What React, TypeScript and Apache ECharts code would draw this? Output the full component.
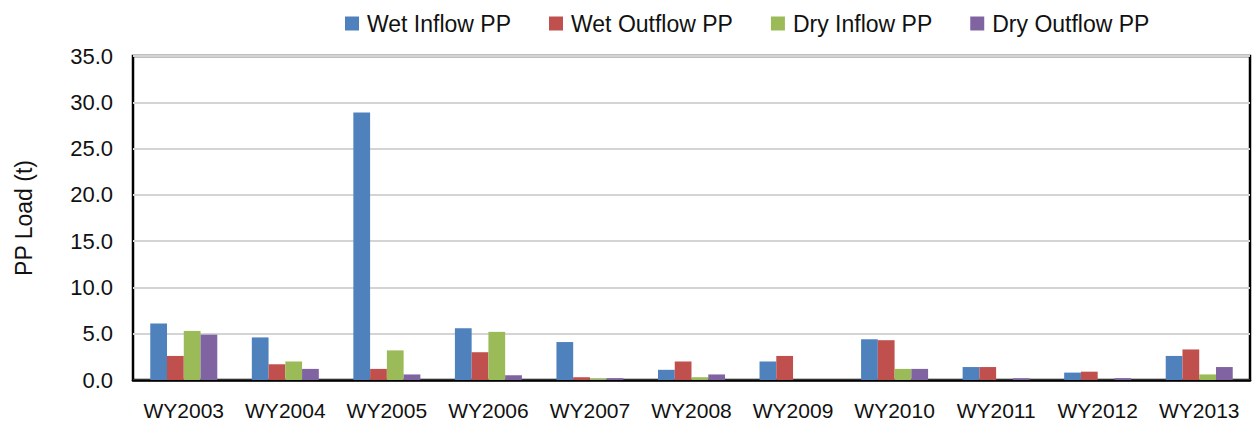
import React, { useEffect, useRef } from "react";
import * as echarts from "echarts";

const categories = ["WY2003", "WY2004", "WY2005", "WY2006", "WY2007", "WY2008", "WY2009", "WY2010", "WY2011", "WY2012", "WY2013"];
const wetInflow = [6.1, 4.6, 28.9, 5.6, 4.1, 1.1, 2.0, 4.4, 1.4, 0.8, 2.6];
const wetOutflow = [2.6, 1.7, 1.2, 3.0, 0.3, 2.0, 2.6, 4.3, 1.4, 0.9, 3.3];
const dryInflow = [5.3, 2.0, 3.2, 5.2, 0.15, 0.3, 0, 1.2, 0, 0, 0.6];
const dryOutflow = [4.9, 1.2, 0.6, 0.5, 0.2, 0.6, 0, 1.2, 0.2, 0.2, 1.4];

const FONT = "Liberation Sans";
const TXT = "#111";

export default function App() {
  const ref = useRef<HTMLDivElement>(null);
  useEffect(() => {
    document.body.style.margin = "0";
    const chart = echarts.init(ref.current!, null, { renderer: "svg" });
    const mk = (name: string, data: number[], color: string) => ({
      name,
      type: "bar",
      data,
      barGap: "0%",
      barCategoryGap: "34%",
      itemStyle: { color },
    });
    chart.setOption({
      animation: false,
      backgroundColor: "#fff",
      textStyle: { fontFamily: FONT },
      legend: {
        left: 340,
        top: 7,
        itemWidth: 14,
        itemHeight: 14,
        itemGap: 38,
        icon: "rect",
        textStyle: { fontSize: 23, color: TXT, fontFamily: FONT, padding: [0, 0, 0, 3] },
        data: ["Wet Inflow PP", "Wet Outflow PP", "Dry Inflow PP", "Dry Outflow PP"],
      },
      grid: {
        left: 133,
        right: 4,
        top: 56,
        bottom: 47,
        show: true,
        borderColor: "#000",
        borderWidth: 2.5,
      },
      xAxis: {
        type: "category",
        data: categories,
        axisTick: { show: false },
        axisLine: { lineStyle: { color: "#000", width: 2.5 } },
        axisLabel: { fontSize: 21, color: TXT, margin: 20, fontFamily: FONT, interval: 0 },
      },
      yAxis: {
        type: "value",
        min: 0,
        max: 35,
        interval: 5,
        name: "PP Load (t)",
        nameLocation: "middle",
        nameGap: 98,
        nameTextStyle: { fontSize: 23, color: TXT, fontFamily: FONT },
        axisLine: { show: false },
        axisTick: { show: false },
        splitLine: { lineStyle: { color: "#d4d4d4", width: 2 } },
        axisLabel: {
          fontSize: 22,
          color: TXT,
          margin: 20,
          fontFamily: FONT,
          formatter: (v: number) => v.toFixed(1),
        },
      },
      series: [
        mk("Wet Inflow PP", wetInflow, "#4F81BD"),
        mk("Wet Outflow PP", wetOutflow, "#C0504D"),
        mk("Dry Inflow PP", dryInflow, "#9BBB59"),
        mk("Dry Outflow PP", dryOutflow, "#8064A2"),
      ],
    });
    return () => chart.dispose();
  }, []);
  return <div ref={ref} style={{ width: 1254, height: 427 }} />;
}
